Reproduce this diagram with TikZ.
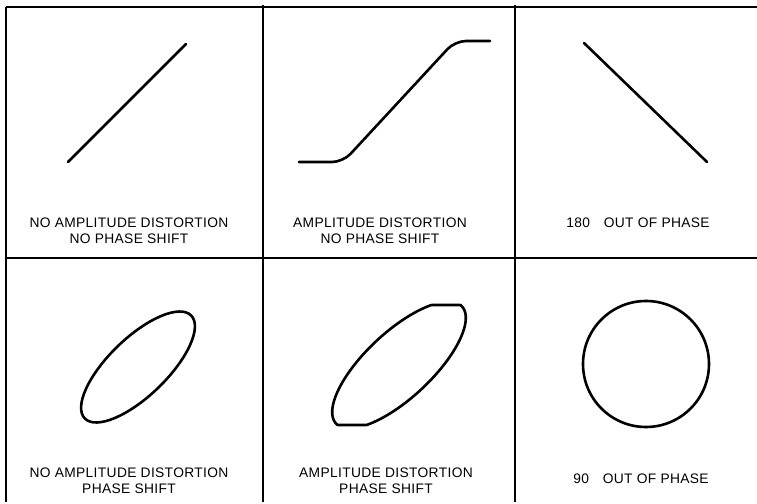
\documentclass[tikz,border=0pt]{standalone}
\usepackage{fontspec}
\setmainfont{Liberation Sans}[LetterSpace=2.5]
\tikzset{
	slika/.style={x=1pt, y=1pt, font=\fontsize{13.8}{16.5}\selectfont},
	mreza/.style={line width=1.5pt},
	sled/.style={line width=2.6pt, line cap=round, line join=round},
	napis/.style={align=center, inner sep=0pt},
}

\begin{document}
\begin{tikzpicture}[slika]

\useasboundingbox (0,0) rectangle (757,503);

% okvir in mreza
\draw[mreza] (6,496) -- (757,496);
\draw[mreza] (6,245) -- (757,245);
\draw[mreza] (6,496) -- (6,1);
\draw[mreza] (263,498) -- (263,1);
\draw[mreza] (515,498) -- (515,1);

% zgornja vrsta
\draw[sled] (68,341) -- (186,459);
\draw[sled, rounded corners=11pt] (299,341) -- (343,341) -- (455,462) -- (490,462);
\draw[sled] (584,460) -- (707,341);

\node[napis] (n1) at (129,272) {NO AMPLITUDE DISTORTION\\NO PHASE SHIFT};
\node[napis] (n2) at (380,272) {AMPLITUDE DISTORTION\\NO PHASE SHIFT};
\node[napis] (n3) at (638,280) {180\quad OUT OF PHASE};

% spodnja vrsta
\draw[sled] (138,136) ellipse[x radius=74, y radius=29, rotate=44];
\draw[sled] plot[domain=0:360, samples=240]
    ({399+86*cos(\x)*cos(43)-33*sin(\x)*sin(43)},
     {138+max(-60,min(60,86*cos(\x)*sin(43)+33*sin(\x)*cos(43)))}) -- cycle;
\draw[sled] (646,139) circle[radius=63];

\node[napis] (n4) at (129,22.5) {NO AMPLITUDE DISTORTION\\PHASE SHIFT};
\node[napis] (n5) at (386,22.5) {AMPLITUDE DISTORTION\\PHASE SHIFT};
\node[napis] (n6) at (641,24) {90\quad OUT OF PHASE};

\end{tikzpicture}
\end{document}
